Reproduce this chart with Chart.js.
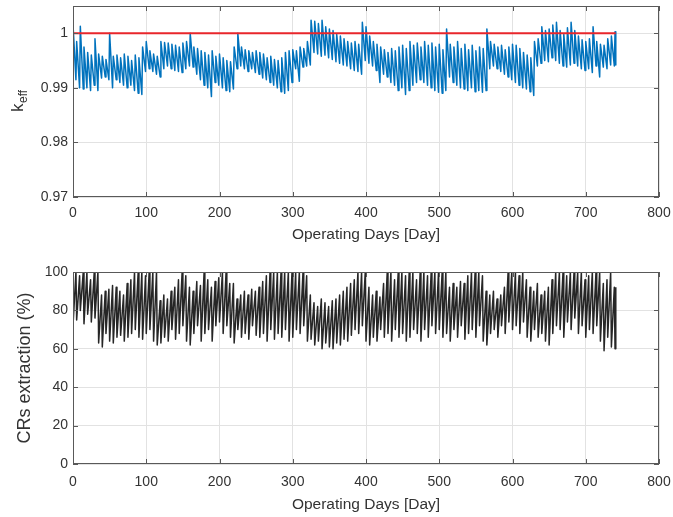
<!DOCTYPE html>
<html><head><meta charset="utf-8">
<script src="https://cdn.jsdelivr.net/npm/chart.js@4.4.1/dist/chart.umd.min.js"></script>
<style>
html,body{margin:0;padding:0;background:#fff;}
#wrap{position:relative;width:673px;height:517px;overflow:hidden;}
canvas{position:absolute;left:0;}
#c1{top:0;}
#c2{top:258px;}
</style></head><body>
<div id="wrap"><canvas id="c1" width="673" height="258"></canvas><canvas id="c2" width="673" height="259"></canvas></div>
<script>
// ---- data ----
const days = [
0,4,5,9,10,14,15,19,20,24,25,29,30,34,35,39,40,44,45,49,
50,54,55,59,60,64,65,69,70,74,75,79,80,84,85,89,90,94,95,99,
100,104,105,109,110,114,115,119,120,124,125,129,130,134,135,139,140,144,145,149,
150,154,155,159,160,164,165,169,170,174,175,179,180,184,185,189,190,194,195,199,
200,204,205,209,210,214,215,219,220,224,225,229,230,234,235,239,240,244,245,249,
250,254,255,259,260,264,265,269,270,274,275,279,280,284,285,289,290,294,295,299,
300,304,305,309,310,314,315,319,320,324,325,329,330,334,335,339,340,344,345,349,
350,354,355,359,360,364,365,369,370,374,375,379,380,384,385,389,390,394,395,399,
400,404,405,409,410,414,415,419,420,424,425,429,430,434,435,439,440,444,445,449,
450,454,455,459,460,464,465,469,470,474,475,479,480,484,485,489,490,494,495,499,
500,504,505,509,510,514,515,519,520,524,525,529,530,534,535,539,540,544,545,549,
550,554,555,559,560,564,565,569,570,574,575,579,580,584,585,589,590,594,595,599,
600,604,605,609,610,614,615,619,620,624,625,629,630,634,635,639,640,644,645,649,
650,654,655,659,660,664,665,669,670,674,675,679,680,684,685,689,690,694,695,699,
700,704,705,709,710,714,715,719,720,724,725,729,730,734,735,739,740,741
];
const keff = [
1.0017,0.9915, 0.9985,0.9900, 1.0013,0.9898, 0.9975,0.9900, 0.9965,0.9895, 0.9960,0.9905, 0.9990,0.9895, 0.9962,0.9918, 0.9958,0.9920, 0.9952,0.9915,
1.0000,0.9900, 0.9958,0.9915, 0.9960,0.9910, 0.9955,0.9905, 0.9962,0.9900, 0.9958,0.9905, 0.9950,0.9895, 0.9960,0.9890, 0.9955,0.9888, 0.9975,0.9930,
0.9985,0.9935, 0.9968,0.9930, 0.9962,0.9925, 0.9958,0.9920, 0.9985,0.9935, 0.9983,0.9940, 0.9982,0.9935, 0.9980,0.9932, 0.9978,0.9930, 0.9975,0.9928,
0.9982,0.9935, 0.9985,0.9940, 1.0000,0.9938, 0.9975,0.9925, 0.9972,0.9915, 0.9968,0.9905, 0.9965,0.9900, 0.9960,0.9884, 0.9968,0.9910, 0.9958,0.9905,
0.9962,0.9900, 0.9955,0.9895, 0.9950,0.9893, 0.9948,0.9898, 0.9975,0.9935, 1.0000,0.9940, 0.9975,0.9935, 0.9970,0.9930, 0.9968,0.9935, 0.9965,0.9928,
0.9968,0.9925, 0.9965,0.9918, 0.9962,0.9915, 0.9955,0.9910, 0.9958,0.9905, 0.9952,0.9900, 0.9950,0.9893, 0.9955,0.9890, 0.9965,0.9895, 0.9968,0.9910,
0.9970,0.9935, 0.9968,0.9912, 0.9975,0.9938, 0.9972,0.9940, 0.9985,0.9942, 1.0024,0.9965, 1.0022,0.9962, 1.0018,0.9958, 1.0024,0.9960, 1.0012,0.9955,
1.0008,0.9952, 1.0005,0.9948, 0.9998,0.9945, 0.9995,0.9942, 0.9990,0.9940, 0.9985,0.9935, 0.9982,0.9932, 0.9985,0.9930, 0.9980,0.9925, 1.0020,0.9950,
1.0012,0.9945, 0.9995,0.9940, 0.9985,0.9932, 0.9980,0.9910, 0.9975,0.9925, 0.9970,0.9920, 0.9965,0.9910, 0.9972,0.9905, 0.9968,0.9895, 0.9975,0.9900,
0.9978,0.9888, 0.9972,0.9895, 0.9985,0.9905, 0.9978,0.9910, 0.9982,0.9915, 0.9975,0.9910, 0.9985,0.9905, 0.9978,0.9900, 0.9982,0.9895, 0.9975,0.9892,
0.9980,0.9890, 0.9970,0.9895, 1.0008,0.9920, 0.9980,0.9910, 0.9975,0.9905, 0.9985,0.9900, 0.9972,0.9898, 0.9980,0.9895, 0.9970,0.9900, 0.9978,0.9893,
0.9968,0.9895, 0.9975,0.9892, 0.9972,0.9895, 1.0008,0.9935, 0.9985,0.9940, 0.9980,0.9935, 0.9975,0.9930, 0.9978,0.9925, 0.9970,0.9920, 0.9975,0.9915,
0.9980,0.9910, 0.9978,0.9905, 0.9972,0.9900, 0.9965,0.9898, 0.9960,0.9893, 0.9955,0.9886, 0.9985,0.9940, 0.9990,0.9945, 1.0012,0.9950, 1.0005,0.9948,
1.0008,0.9955, 1.0015,0.9950, 1.0020,0.9945, 1.0005,0.9940, 0.9998,0.9938, 1.0010,0.9942, 1.0020,0.9945, 1.0005,0.9940, 0.9995,0.9935, 0.9988,0.9932,
0.9985,0.9935, 0.9990,0.9928, 1.0012,0.9940, 0.9985,0.9920, 0.9980,0.9938, 0.9978,0.9935, 0.9990,0.9942, 0.9995,0.9940, 1.0003,0.9942
];
const crs = [
72,100, 75,98, 80,100, 73,100, 78,96, 74,100, 76,100, 63,88, 61,90, 68,91,
64,93, 63,92, 66,90, 67,88, 64,94, 66,96, 68,100, 70,100, 66,100, 65,98,
68,100, 70,100, 64,100, 62,85, 63,88, 66,86, 64,90, 70,92, 65,96, 68,100,
72,98, 64,92, 62,90, 68,95, 72,93, 64,100, 68,96, 70,92, 64,95, 72,97,
74,100, 68,100, 72,94, 66,94, 63,86, 70,88, 66,90, 68,88, 65,91, 72,90,
67,92, 66,95, 68,98, 64,100, 70,100, 65,100, 68,100, 66,100, 70,100, 64,100,
66,100, 70,100, 68,100, 72,98, 64,88, 65,84, 62,82, 64,86, 60,84, 63,82,
61,85, 60,86, 63,88, 62,90, 65,92, 64,94, 67,96, 70,100, 68,100, 72,100,
64,92, 62,88, 66,90, 64,87, 70,94, 66,100, 68,100, 64,96, 70,100, 66,100,
68,98, 64,100, 66,100, 70,96, 68,100, 64,100, 70,98, 66,100, 72,100, 68,100,
70,100, 66,100, 68,92, 64,94, 70,92, 66,95, 72,94, 65,98, 68,100, 70,100,
66,100, 72,98, 64,90, 62,88, 68,90, 70,86, 66,88, 72,92, 68,100, 74,100,
70,100, 72,98, 68,100, 74,96, 66,92, 64,90, 70,94, 66,88, 68,90, 64,92,
62,96, 68,100, 72,100, 70,100, 66,98, 74,100, 70,100, 76,100, 68,100, 72,96,
66,98, 70,100, 68,100, 72,100, 64,94, 59,96, 66,100, 61,92, 60,92
];
const refDays = [0, 741];
const refKeff = [1, 1];
const xTicks = [0,100,200,300,400,500,600,700,800];
const keffTicks = [0.97,0.98,0.99,1];
const keffTickLabels = ['0.97','0.98','0.99','1'];
const crsTicks = [0,20,40,60,80,100];

// ---- rendering ----
Chart.defaults.font.family = "'Liberation Sans', Arial, Helvetica, sans-serif";
Chart.defaults.color = '#333';
const GRID = '#e2e2e2';
const AX = '#595959';

const frame = {
  id: 'frame',
  afterDraw(chart) {
    const {ctx, chartArea: a, scales} = chart;
    ctx.save();
    ctx.strokeStyle = AX; ctx.lineWidth = 1;
    ctx.strokeRect(a.left + 0.5, a.top + 0.5, a.right - a.left - 1, a.bottom - a.top - 1);
    ctx.beginPath();
    scales.x.ticks.forEach(t => {
      const p = Math.round(scales.x.getPixelForValue(t.value)) + 0.5;
      ctx.moveTo(p, a.bottom); ctx.lineTo(p, a.bottom - 5);
      ctx.moveTo(p, a.top); ctx.lineTo(p, a.top + 5);
    });
    scales.y.ticks.forEach(t => {
      const p = Math.round(scales.y.getPixelForValue(t.value)) + 0.5;
      ctx.moveTo(a.left, p); ctx.lineTo(a.left + 5, p);
      ctx.moveTo(a.right, p); ctx.lineTo(a.right - 5, p);
    });
    ctx.stroke();
    ctx.restore();
  }
};

const keffLabel = {
  id: 'keffLabel',
  afterDraw(chart) {
    const {ctx} = chart;
    ctx.save();
    ctx.fillStyle = '#333';
    ctx.translate(23, 112);
    ctx.rotate(-Math.PI / 2);
    ctx.textBaseline = 'alphabetic';
    ctx.textAlign = 'left';
    ctx.font = "17px 'Liberation Sans', Arial, sans-serif";
    ctx.fillText('k', 0, 0);
    const w = ctx.measureText('k').width;
    ctx.font = "12px 'Liberation Sans', Arial, sans-serif";
    ctx.fillText('eff', w + 0.5, 4);
    ctx.restore();
  }
};

function xScale(h, tickPad, titlePad) {
  return {
    type: 'linear', min: 0, max: 800,
    afterBuildTicks(s) { s.ticks = xTicks.map(v => ({value: v})); },
    afterFit(s) { s.height = h; s.paddingLeft = 0; s.paddingRight = 0; },
    ticks: {padding: tickPad, font: {size: 14}, color: '#333', maxRotation: 0, callback: v => String(v)},
    grid: {color: GRID, drawTicks: false, lineWidth: 1},
    border: {display: false},
    title: {display: true, text: 'Operating Days [Day]', font: {size: 15.5}, color: '#333', padding: {top: 0, bottom: titlePad}}
  };
}

new Chart(document.getElementById('c1'), {
  type: 'line',
  data: {
    datasets: [
      {data: days.map((d, i) => ({x: d, y: keff[i]})), borderColor: '#0072BD', borderWidth: 1.5, pointRadius: 0, borderJoinStyle: 'round', tension: 0, order: 2},
      {data: refDays.map((d, i) => ({x: d, y: refKeff[i]})), borderColor: '#e8262b', borderWidth: 2, pointRadius: 0, order: 1}
    ]
  },
  options: {
    responsive: false, animation: false, devicePixelRatio: 1,
    layout: {padding: {left: 0, right: 14, top: 6, bottom: 0}},
    plugins: {legend: {display: false}, tooltip: {enabled: false}},
    scales: {
      x: xScale(61, 8, 14),
      y: {
        min: 0.97, max: 1.005,
        afterBuildTicks(s) { s.ticks = keffTicks.map(v => ({value: v})); },
        afterFit(s) { s.width = 73; s.paddingTop = 0; s.paddingBottom = 0; },
        ticks: {padding: 5, font: {size: 14}, color: '#333', callback: (v, i) => keffTickLabels[i]},
        grid: {color: GRID, drawTicks: false},
        border: {display: false}
      }
    }
  },
  plugins: [frame, keffLabel]
});

new Chart(document.getElementById('c2'), {
  type: 'line',
  data: {
    datasets: [
      {data: days.map((d, i) => ({x: d, y: crs[i]})), borderColor: '#262626', borderWidth: 1.5, pointRadius: 0, borderJoinStyle: 'round', tension: 0}
    ]
  },
  options: {
    responsive: false, animation: false, devicePixelRatio: 1,
    layout: {padding: {left: 0, right: 14, top: 14, bottom: 0}},
    plugins: {legend: {display: false}, tooltip: {enabled: false}},
    scales: {
      x: xScale(53, 10, 3),
      y: {
        min: 0, max: 100,
        afterBuildTicks(s) { s.ticks = crsTicks.map(v => ({value: v})); },
        afterFit(s) { s.width = 73; s.paddingTop = 0; s.paddingBottom = 0; },
        ticks: {padding: 5, font: {size: 14}, color: '#333', callback: v => String(v)},
        grid: {color: GRID, drawTicks: false},
        border: {display: false},
        title: {display: true, text: 'CRs extraction (%)', font: {size: 18}, color: '#333', padding: {top: 14, bottom: 0}}
      }
    }
  },
  plugins: [frame]
});
</script>
</body></html>
